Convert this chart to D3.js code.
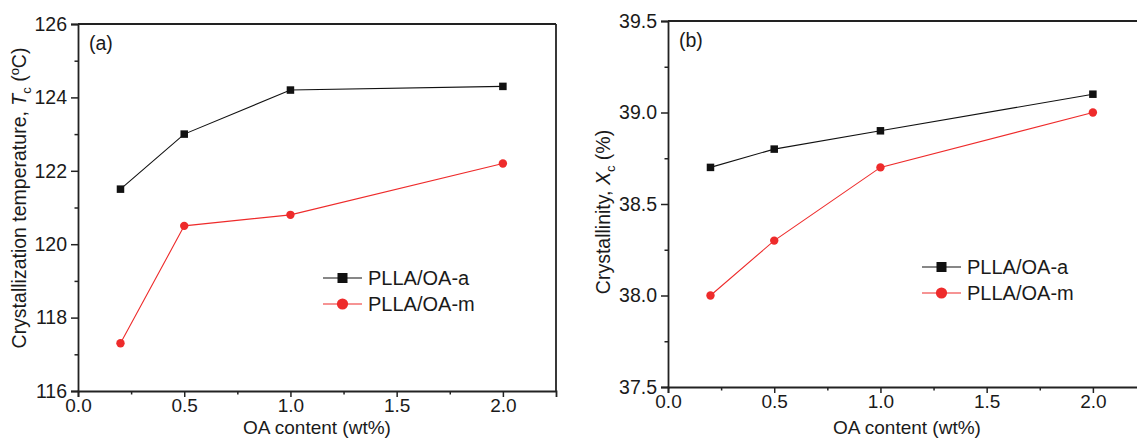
<!DOCTYPE html>
<html>
<head>
<meta charset="utf-8">
<script src="https://cdn.jsdelivr.net/npm/d3@7"></script>
<style>
  html, body { margin: 0; padding: 0; background: #fff; }
  svg { display: block; font-family: "Liberation Sans", Arial, sans-serif; }
</style>
</head>
<body>
<svg id="chart" width="1137" height="438"></svg>
<script>
// ---- data ----
const oaContent = [0.2, 0.5, 1.0, 2.0];
const tcOAa = [121.5, 123.0, 124.2, 124.3];
const tcOAm = [117.3, 120.5, 120.8, 122.2];
const xcOAa = [38.7, 38.8, 38.9, 39.1];
const xcOAm = [38.0, 38.3, 38.7, 39.0];
const seriesNames = ["PLLA/OA-a", "PLLA/OA-m"];
const xTickValues = [0.0, 0.5, 1.0, 1.5, 2.0];
const tcTickValues = [116, 118, 120, 122, 124, 126];
const xcTickValues = [37.5, 38.0, 38.5, 39.0, 39.5];

const BLACK = "#111";
const RED = "#ee2b2b";
const TEXT = "#1a1a1a";
const FS = 19.5;

const svg = d3.select("#chart");

function panel(opts) {
  const {left, right, top, bottom, yDomain, yTicks, yMinorStep, yFmt, a, m, tag, tagPos, legend, yTitle, yTitlePos, showRight} = opts;
  const x = d3.scaleLinear().domain([0, 2.25]).range([left, right]);
  const y = d3.scaleLinear().domain(yDomain).range([bottom, top]);
  const g = svg.append("g");

  const xMinor = d3.range(0.25, 2.25, 0.5);
  const yMinor = d3.range(yDomain[0] + yMinorStep, yDomain[1], yMinorStep * 2);

  const xAx = g.append("g").attr("transform", `translate(0,${bottom})`)
    .call(d3.axisBottom(x).tickValues(xTickValues).tickFormat(d3.format(".1f")).tickSize(6).tickPadding(2));
  g.append("g").attr("transform", `translate(0,${bottom})`)
    .call(d3.axisBottom(x).tickValues(xMinor).tickFormat("").tickSize(3.5))
    .call(s => s.select(".domain").remove());
  const yAx = g.append("g").attr("transform", `translate(${left},0)`)
    .call(d3.axisLeft(y).tickValues(yTicks).tickFormat(yFmt).tickSize(7).tickPadding(4));
  g.append("g").attr("transform", `translate(${left},0)`)
    .call(d3.axisLeft(y).tickValues(yMinor).tickFormat("").tickSize(3.5))
    .call(s => s.select(".domain").remove());

  g.selectAll(".tick line").attr("stroke", "#222").attr("stroke-width", 1.5);
  g.selectAll(".domain").attr("stroke", "#222").attr("stroke-width", 1.8);
  g.selectAll(".tick text").attr("fill", TEXT)
    .style("font-family", '"Liberation Sans", Arial, sans-serif');
  yAx.selectAll(".tick text").style("font-size", FS + "px");
  xAx.selectAll(".tick text").style("font-size", "19px");

  g.append("line").attr("x1", left).attr("x2", right).attr("y1", top).attr("y2", top)
    .attr("stroke", "#222").attr("stroke-width", 1.8);
  if (showRight) {
    g.append("line").attr("x1", right).attr("x2", right).attr("y1", top).attr("y2", bottom)
      .attr("stroke", "#222").attr("stroke-width", 1.8);
  }

  const line = d3.line().x(d => x(d[0])).y(d => y(d[1]));
  const dataA = oaContent.map((v, i) => [v, a[i]]);
  const dataM = oaContent.map((v, i) => [v, m[i]]);

  g.append("path").datum(dataA).attr("d", line).attr("fill", "none").attr("stroke", BLACK).attr("stroke-width", 1.1);
  g.append("path").datum(dataM).attr("d", line).attr("fill", "none").attr("stroke", RED).attr("stroke-width", 1.1);
  const sq = 7.5;
  g.selectAll(".sq").data(dataA).enter().append("rect")
    .attr("x", d => x(d[0]) - sq / 2).attr("y", d => y(d[1]) - sq / 2)
    .attr("width", sq).attr("height", sq).attr("fill", BLACK);
  g.selectAll(".ci").data(dataM).enter().append("circle")
    .attr("cx", d => x(d[0])).attr("cy", d => y(d[1])).attr("r", 4.2).attr("fill", RED);

  g.append("text").attr("x", tagPos[0]).attr("y", tagPos[1]).attr("dy", "0.35em")
    .attr("fill", TEXT).style("font-size", FS + "px").text(tag);

  const [lx, ly, lgap] = legend;
  [[BLACK, "sq"], [RED, "ci"]].forEach(([col, kind], i) => {
    const yy = ly + i * lgap;
    g.append("line").attr("x1", lx).attr("x2", lx + 39).attr("y1", yy).attr("y2", yy)
      .attr("stroke", col).attr("stroke-width", 1.1);
    if (kind === "sq") {
      g.append("rect").attr("x", lx + 19.5 - 5).attr("y", yy - 5).attr("width", 10).attr("height", 10).attr("fill", col);
    } else {
      g.append("circle").attr("cx", lx + 19.5).attr("cy", yy).attr("r", 5.6).attr("fill", col);
    }
    g.append("text").attr("x", lx + 45).attr("y", yy).attr("dy", "0.36em")
      .attr("fill", TEXT).style("font-size", "20px").text(seriesNames[i]);
  });

  g.append("text").attr("x", (left + right) / 2).attr("y", 434)
    .attr("text-anchor", "middle").attr("fill", TEXT).style("font-size", "19px")
    .text("OA content (wt%)");

  const yt = g.append("text")
    .attr("transform", `translate(${yTitlePos[0]},${yTitlePos[1]}) rotate(-90)`)
    .attr("text-anchor", "middle").attr("dy", "0.35em")
    .attr("fill", TEXT).style("font-size", FS + "px");
  yTitle(yt);
}

panel({
  left: 78, right: 556, top: 24, bottom: 391,
  yDomain: [116, 126], yTicks: tcTickValues, yMinorStep: 1, yFmt: d3.format("d"),
  a: tcOAa, m: tcOAm, tag: "(a)", tagPos: [89, 43],
  legend: [323, 278, 26],
  yTitlePos: [19, 198],
  showRight: true,
  yTitle: t => {
    t.append("tspan").text("Crystallization temperature, ");
    t.append("tspan").style("font-style", "italic").text("T");
    t.append("tspan").attr("dy", 5).style("font-size", "13px").text("c");
    t.append("tspan").attr("dy", -5).text(" (");
    t.append("tspan").attr("dy", -7).style("font-size", "13px").text("o");
    t.append("tspan").attr("dy", 7).text("C)");
  }
});

panel({
  left: 668, right: 1146, top: 21, bottom: 387,
  yDomain: [37.5, 39.5], yTicks: xcTickValues, yMinorStep: 0.25, yFmt: d3.format(".1f"),
  a: xcOAa, m: xcOAm, tag: "(b)", tagPos: [679, 40],
  legend: [922, 267, 26],
  yTitlePos: [603, 212],
  showRight: false,
  yTitle: t => {
    t.append("tspan").text("Crystallinity, ");
    t.append("tspan").style("font-style", "italic").text("X");
    t.append("tspan").attr("dy", 5).style("font-size", "13px").text("c");
    t.append("tspan").attr("dy", -5).text(" (%)");
  }
});
</script>
</body>
</html>
